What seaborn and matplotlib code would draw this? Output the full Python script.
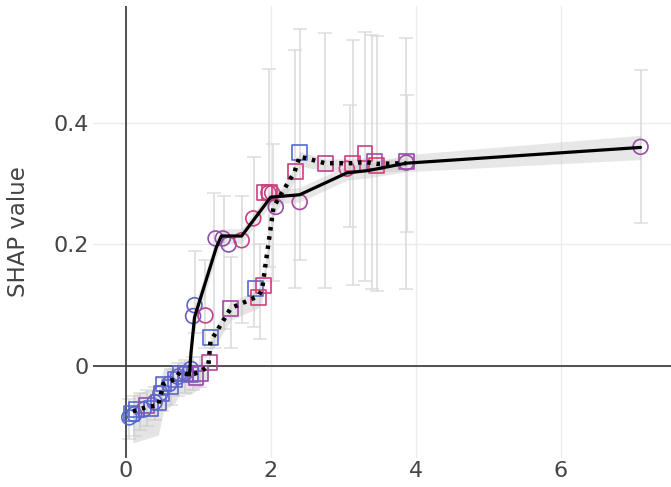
import numpy as np
import pandas as pd
import matplotlib
matplotlib.use("Agg")
import matplotlib.pyplot as plt
import seaborn as sns
from matplotlib.colors import LinearSegmentedColormap

# circles (solid-line model)
circ_x = [0.05, 0.12, 0.25, 0.40, 0.48, 0.60, 0.72, 0.82, 0.90,
          0.95, 0.93, 1.10, 1.24, 1.34, 1.42, 1.60, 1.76, 1.97, 2.02,
          2.07, 2.40, 3.05, 3.87, 7.10]
circ_y = [-0.085, -0.080, -0.072, -0.060, -0.045, -0.030, -0.018, -0.012, -0.005,
          0.100, 0.082, 0.083, 0.210, 0.210, 0.200, 0.207, 0.243, 0.285, 0.285,
          0.262, 0.270, 0.325, 0.335, 0.361]
circ_c = [0.05, 0.10, 0.10, 0.15, 0.10, 0.10, 0.15, 0.20, 0.10,
          0.10, 0.25, 0.75, 0.45, 0.50, 0.40, 0.80, 0.85, 0.85, 0.80,
          0.50, 0.60, 0.80, 0.50, 0.50]

# squares (dotted-line model)
sq_x = [0.08, 0.15, 0.29, 0.35, 0.45, 0.50, 0.52, 0.62, 0.68, 0.75, 0.82, 0.89,
        0.97, 1.03, 1.16, 1.17, 1.45, 1.79, 1.83, 1.90, 1.92, 1.98, 2.34, 2.40,
        2.75, 3.13, 3.30, 3.43, 3.46, 3.87]
sq_y = [-0.078, -0.072, -0.066, -0.070, -0.060, -0.045, -0.030, -0.035, -0.022, -0.012,
        -0.012, -0.015, -0.020, -0.012, 0.005, 0.046, 0.095, 0.128, 0.112, 0.133,
        0.285, 0.285, 0.320, 0.351, 0.334, 0.334, 0.350, 0.337, 0.330, 0.337]
sq_c = [0.05, 0.10, 0.45, 0.10, 0.10, 0.15, 0.10, 0.10, 0.15, 0.10,
        0.20, 0.15, 0.50, 0.45, 0.70, 0.10, 0.55, 0.10, 0.90, 0.85,
        0.85, 0.85, 0.85, 0.05, 0.75, 0.85, 0.85, 0.45, 0.90, 0.50]

# solid line with band
line_x = [0.88, 0.90, 0.95, 1.25, 1.32, 1.60,
          2.00, 2.40, 3.05, 3.35, 3.87, 7.10]
line_y = [-0.015, 0.020, 0.080, 0.195, 0.214,
          0.214, 0.278, 0.282, 0.318, 0.322, 0.334, 0.360]
line_band = [0.025, 0.020, 0.020, 0.015, 0.012,
             0.012, 0.012, 0.012, 0.012, 0.012, 0.014, 0.020]

# dotted line with band
dot_x = [0.10, 0.29, 0.45, 0.52, 0.68, 0.75, 0.89, 1.03, 1.14, 1.17, 1.45, 1.83,
         1.88, 2.04, 2.33, 2.40, 2.75, 3.13, 3.30, 3.46, 3.87]
dot_y = [-0.075, -0.068, -0.065, -0.030, -0.022, -0.010, -0.015, -0.010, 0.000, 0.040,
         0.095, 0.115, 0.125, 0.262, 0.320, 0.345, 0.334, 0.334, 0.336, 0.333, 0.334]
dot_band = [0.040, 0.040, 0.038, 0.035, 0.030, 0.028, 0.025, 0.020, 0.015, 0.015,
            0.015, 0.015, 0.015, 0.012, 0.012, 0.012, 0.010, 0.010, 0.010, 0.010, 0.010]

# error bars (x, low, high)
eb_x = [0.05, 0.12, 0.20, 0.29, 0.40, 0.50, 0.62, 0.72, 0.82, 0.93, 1.03,
        0.95, 1.10, 1.22, 1.35, 1.45, 1.60, 1.77, 1.85, 1.98, 2.03, 2.33, 2.40,
        2.75, 3.10, 3.13, 3.30, 3.40, 3.46, 3.87, 3.88, 7.10]
eb_lo = [-0.120, -0.115, -0.105, -0.100, -0.090, -0.075, -0.065, -0.050, -0.045, -0.040, -0.035,
         0.054, 0.030, 0.030, 0.060, 0.030, 0.070, 0.064, 0.045, 0.163, 0.140, 0.128, 0.175,
         0.128, 0.229, 0.133, 0.140, 0.126, 0.124, 0.126, 0.221, 0.236]
eb_hi = [-0.055, -0.050, -0.045, -0.040, -0.035, -0.020, -0.005, 0.005, 0.010, 0.015, 0.015,
         0.190, 0.175, 0.285, 0.280, 0.180, 0.280, 0.345, 0.200, 0.490, 0.365, 0.520, 0.556,
         0.548, 0.430, 0.537, 0.550, 0.546, 0.543, 0.540, 0.446, 0.488]

circ_df = pd.DataFrame({"x": circ_x, "y": circ_y, "c": circ_c})
sq_df = pd.DataFrame({"x": sq_x, "y": sq_y, "c": sq_c})

cmap = LinearSegmentedColormap.from_list("bp", ["#4a6fd4", "#9a4ca8", "#e23a6e"])

sns.set_style("white")
plt.rcParams["font.family"] = ["DejaVu Sans"]

fig = plt.figure(figsize=(6.71, 4.87), dpi=100)
ax = fig.add_axes([0.1386, 0.0595, 0.8614, 0.928])

# error bars
eb_lo_a = np.array(eb_lo)
eb_hi_a = np.array(eb_hi)
mid = (eb_lo_a + eb_hi_a) / 2
half = (eb_hi_a - eb_lo_a) / 2
ax.errorbar(eb_x, mid, yerr=half, fmt="none", ecolor="#d9d9d9", elinewidth=1.4,
            capsize=5, capthick=1.2, alpha=0.8, zorder=1)

# bands
lx = np.array(line_x); ly = np.array(line_y); lb = np.array(line_band)
ax.fill_between(lx, ly - lb, ly + lb, color="#bdbdbd", alpha=0.35, lw=0, zorder=1.5)
dx = np.array(dot_x); dy = np.array(dot_y); db = np.array(dot_band)
ax.fill_between(dx, dy - db * 1.3, dy + db * 0.7, color="#bdbdbd", alpha=0.4, lw=0, zorder=1.5)

# markers
sns.scatterplot(data=circ_df, x="x", y="y", hue="c", palette=cmap, hue_norm=(0, 1),
                marker="o", s=115, legend=False, ax=ax, zorder=3)
coll = ax.collections[-1]
fc = coll.get_facecolors()
coll.set_edgecolors(fc)
coll.set_facecolors("none")
coll.set_linewidth(1.2)

sns.scatterplot(data=sq_df, x="x", y="y", hue="c", palette=cmap, hue_norm=(0, 1),
                marker="s", s=115, legend=False, ax=ax, zorder=3)
coll = ax.collections[-1]
fc = coll.get_facecolors()
coll.set_edgecolors(fc)
coll.set_facecolors("none")
coll.set_linewidth(1.2)

# lines
sns.lineplot(x=line_x, y=line_y, color="black", lw=2.3, sort=False, ax=ax, zorder=4)
sns.lineplot(x=dot_x, y=dot_y, color="black", lw=3.2, sort=False, ax=ax, zorder=4,
             linestyle=(0, (0.8, 1.3)))

# axes style
ax.set_xlim(-0.45, 7.52)
ax.set_ylim(-0.152, 0.593)
ax.set_xticks([0, 2, 4, 6])
ax.set_yticks([0, 0.2, 0.4])
ax.set_yticklabels(["0", "0.2", "0.4"])
ax.grid(True, color="#ebebeb", lw=1)
ax.set_axisbelow(True)
ax.axhline(0, color="#444444", lw=1.3, zorder=2)
ax.axvline(0, color="#444444", lw=1.3, zorder=2)
for s in ax.spines.values():
    s.set_visible(False)
ax.tick_params(length=0, labelsize=16, labelcolor="#444444")
ax.tick_params(axis="y", pad=3)
ax.tick_params(axis="x", pad=2)
ax.set_xlabel("")
ax.set_ylabel("SHAP value", fontsize=16.5, color="#444444")
ax.yaxis.set_label_coords(-0.109, 0.5)

fig.savefig("out.png", dpi=100)
